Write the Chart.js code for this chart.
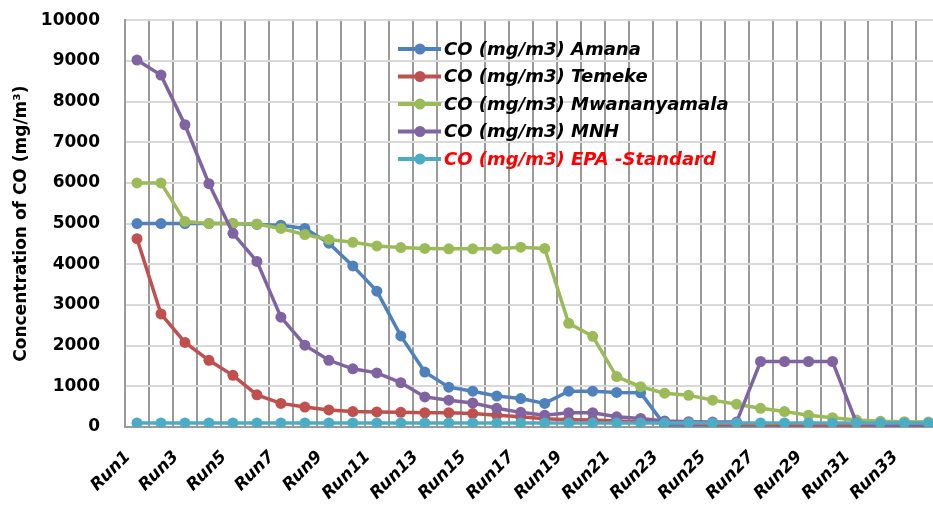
<!DOCTYPE html>
<html>
<head>
<meta charset="utf-8">
<script src="https://cdn.jsdelivr.net/npm/chart.js@4"></script>
<style>
  html, body { margin:0; padding:0; background:#fff; overflow:hidden; width:933px; height:506px; }
  /* the original plot runs past the right edge of the picture, so the canvas is wider and shifted up a bit */
  canvas { display:block; margin-top:-15px; }
</style>
</head>
<body>
<canvas id="c" width="963" height="521"></canvas>
<script>
/* CO concentration per run, five sites */
const RUNS = ["Run1","Run2","Run3","Run4","Run5","Run6","Run7","Run8","Run9","Run10",
  "Run11","Run12","Run13","Run14","Run15","Run16","Run17","Run18","Run19","Run20",
  "Run21","Run22","Run23","Run24","Run25","Run26","Run27","Run28","Run29","Run30",
  "Run31","Run32","Run33","Run34"];

const AMANA = [5000,5000,5000,5000,5000,4980,4960,4880,4520,3960,3340,2240,1350,980,880,760,700,580,
  880,880,850,840,50,50,50,50,50,50,50,50,50,50,50,50];
const TEMEKE = [4630,2780,2080,1640,1270,790,580,490,420,380,370,360,350,350,330,290,250,200,
  180,170,150,130,100,80,70,60,60,50,50,50,50,50,50,50];
const MWANANYAMALA = [6000,6000,5050,5000,5000,4990,4880,4730,4610,4540,4450,4410,4390,4380,4380,4380,4420,4390,
  2550,2230,1240,990,830,780,660,560,460,380,290,230,170,140,130,120];
const MNH = [9020,8650,7430,5980,4760,4070,2700,2010,1640,1430,1330,1090,740,660,590,460,360,290,
  350,350,250,210,150,130,120,120,1610,1610,1610,1610,100,50,50,50];
const EPA = [100,100,100,100,100,100,100,100,100,100,100,100,100,100,100,100,100,100,
  100,100,100,100,100,100,100,100,100,100,100,100,100,100,100,100];

const Y_TICKS = [0,1000,2000,3000,4000,5000,6000,7000,8000,9000,10000];

const C = { blue:"#4F81BD", red:"#C0504D", green:"#9BBB59", purple:"#8064A2", cyan:"#4BACC6",
            vgrid:"#9a9a9a", hgrid:"#d9d9d9" };
const FONT = "DejaVu Sans";
const SHIFT = 15;   // canvas margin-top offset, legend positions are in page pixels

Chart.defaults.font.family = FONT;
Chart.defaults.color = "#000";

// Excel draws later series on top, so lower `order` for later ones
const series = (label, data, color, order) => ({
  label, data, order,
  borderColor: color, backgroundColor: color,
  borderWidth: 3.5, tension: 0,
  pointRadius: 5.5, pointHoverRadius: 5.5, pointBorderWidth: 0,
  pointBackgroundColor: color
});

/* legend sits inside the plot, like the Excel original */
const inLegend = {
  id: "inLegend",
  afterDraw(chart){
    const ctx = chart.ctx;
    ctx.save();
    chart.data.datasets.forEach((ds, i) => {
      const y = 49 + i * 27.5 + SHIFT;
      ctx.strokeStyle = ds.borderColor; ctx.lineWidth = 4;
      ctx.beginPath(); ctx.moveTo(398, y); ctx.lineTo(441, y); ctx.stroke();
      ctx.fillStyle = ds.borderColor;
      ctx.beginPath(); ctx.arc(420, y, 5.5, 0, Math.PI * 2); ctx.fill();
      ctx.font = `italic bold 18px "${FONT}"`;
      ctx.textBaseline = "middle"; ctx.textAlign = "left";
      ctx.fillStyle = i === 4 ? "#FF0000" : "#000";
      ctx.fillText(ds.label, 444, y + 1);
    });
    ctx.restore();
  }
};

new Chart(document.getElementById("c"), {
  type: "line",
  data: {
    labels: RUNS,
    datasets: [
      series("CO (mg/m3) Amana", AMANA, C.blue, 5),
      series("CO (mg/m3) Temeke", TEMEKE, C.red, 4),
      series("CO (mg/m3) Mwananyamala", MWANANYAMALA, C.green, 3),
      series("CO (mg/m3) MNH", MNH, C.purple, 2),
      series("CO (mg/m3) EPA -Standard", EPA, C.cyan, 1),
    ]
  },
  options: {
    responsive: false, animation: false,
    layout: { padding: { top: 3, right: 9, left: 0, bottom: 0 } },
    plugins: { legend: { display: false }, tooltip: { enabled: false } },
    scales: {
      x: {
        offset: true,
        grid: { offset: true, color: C.vgrid, lineWidth: 2, drawTicks: false },
        border: { color: C.vgrid, width: 2 },
        ticks: {
          autoSkip: false, minRotation: 45, maxRotation: 45, padding: 20, labelOffset: -9, color: "#000",
          font: { size: 17, weight: "bold", style: "italic" },
          callback: (v, i) => i % 2 === 0 ? RUNS[i] : ""
        },
        afterFit: s => { s.height = 79; }
      },
      y: {
        min: 0, max: 10000,
        afterBuildTicks: s => { s.ticks = Y_TICKS.map(v => ({ value: v })); },
        grid: { color: C.hgrid, lineWidth: 2, drawTicks: false },
        border: { color: C.vgrid, width: 2 },
        ticks: { padding: 25, color: "#000", font: { size: 17, weight: "bold" }, callback: v => String(v) },
        title: {
          display: true, text: "Concentration of CO (mg/m³)", color: "#000",
          font: { size: 17, weight: "bold" }, padding: { top: 11, bottom: 0 }
        },
        afterFit: s => { s.width = 125; }
      }
    }
  },
  plugins: [inLegend]
});
</script>
</body>
</html>
